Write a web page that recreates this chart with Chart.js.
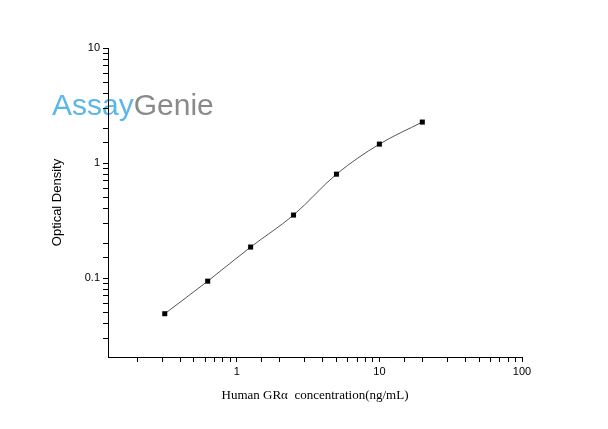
<!DOCTYPE html>
<html><head>
<script src="https://cdn.jsdelivr.net/npm/chart.js@4"></script>
<style>body{margin:0;background:#fff}#wrap{width:608px;height:429px}</style>
</head><body><div id="wrap"><canvas id="grafico"></canvas></div>
<script>
const concentrations = [0.3125, 0.625, 1.25, 2.5, 5, 10, 20];
const odValues = [0.049, 0.094, 0.186, 0.353, 0.80, 1.46, 2.27];
const xTicks = [1, 10, 100];
const yTicks = [0.1, 1, 10];

const logo = {
  id: "logo",
  beforeDraw(chart) {
    const c = chart.ctx;
    c.save();
    c.font = "30px 'Liberation Sans', Arial";
    c.textBaseline = "middle";
    c.fillStyle = "#5bb8e6";
    c.fillText("Assay", 52, 107);
    const w = c.measureText("Assay").width;
    c.fillStyle = "#8a8a8a";
    c.fillText("Genie", 52 + w, 107);
    c.restore();
  }
};

new Chart(document.getElementById("grafico"), {
  type: "scatter",
  data: {
    datasets: [
      {
        data: concentrations.map((x, i) => ({ x: x, y: odValues[i] })),
        backgroundColor: "#000", pointStyle: "rect", pointRadius: 3.5, showLine: false
      },
      {
        data: concentrations.map((x, i) => ({ x: x, y: odValues[i] })),
        borderColor: "#555", borderWidth: 1, pointRadius: 0, showLine: true,
        cubicInterpolationMode: "monotone"
      }
    ]
  },
  options: {
    responsive: true,
    maintainAspectRatio: false,
    animation: false,
    layout: { padding: { top: 48, right: 86, left: 46, bottom: 22 } },
    plugins: { legend: { display: false }, tooltip: { enabled: false } },
    scales: {
      x: {
        type: "logarithmic", min: 0.125, max: 100,
        afterFit: s => { s.height = 50; },
        afterBuildTicks: s => { s.ticks = s.ticks.filter(t => t.value >= 0.2); },
        grid: { drawOnChartArea: false, color: "#000", tickLength: 5 },
        border: { color: "#000" },
        ticks: { color: "#000", font: { size: 11 }, autoSkip: false, maxRotation: 0,
          callback: v => xTicks.includes(v) ? String(v) : "" },
        title: { display: true, text: "Human GRα  concentration(ng/mL)", color: "#000",
          font: { family: "'Liberation Serif', 'Times New Roman'", size: 13 }, padding: { top: 2 } }
      },
      y: {
        type: "logarithmic", min: 0.0206, max: 10,
        afterFit: s => { s.width = 62; },
        afterBuildTicks: s => { s.ticks = s.ticks.filter(t => t.value >= 0.03); },
        grid: { drawOnChartArea: false, color: "#000", tickLength: 5 },
        border: { color: "#000" },
        ticks: { color: "#000", font: { size: 11 }, autoSkip: false,
          callback: v => yTicks.includes(v) ? String(v) : "" },
        title: { display: true, text: "Optical Density", color: "#000",
          font: { size: 13 }, padding: { bottom: 0 } }
      }
    }
  },
  plugins: [logo]
});
</script></body></html>
